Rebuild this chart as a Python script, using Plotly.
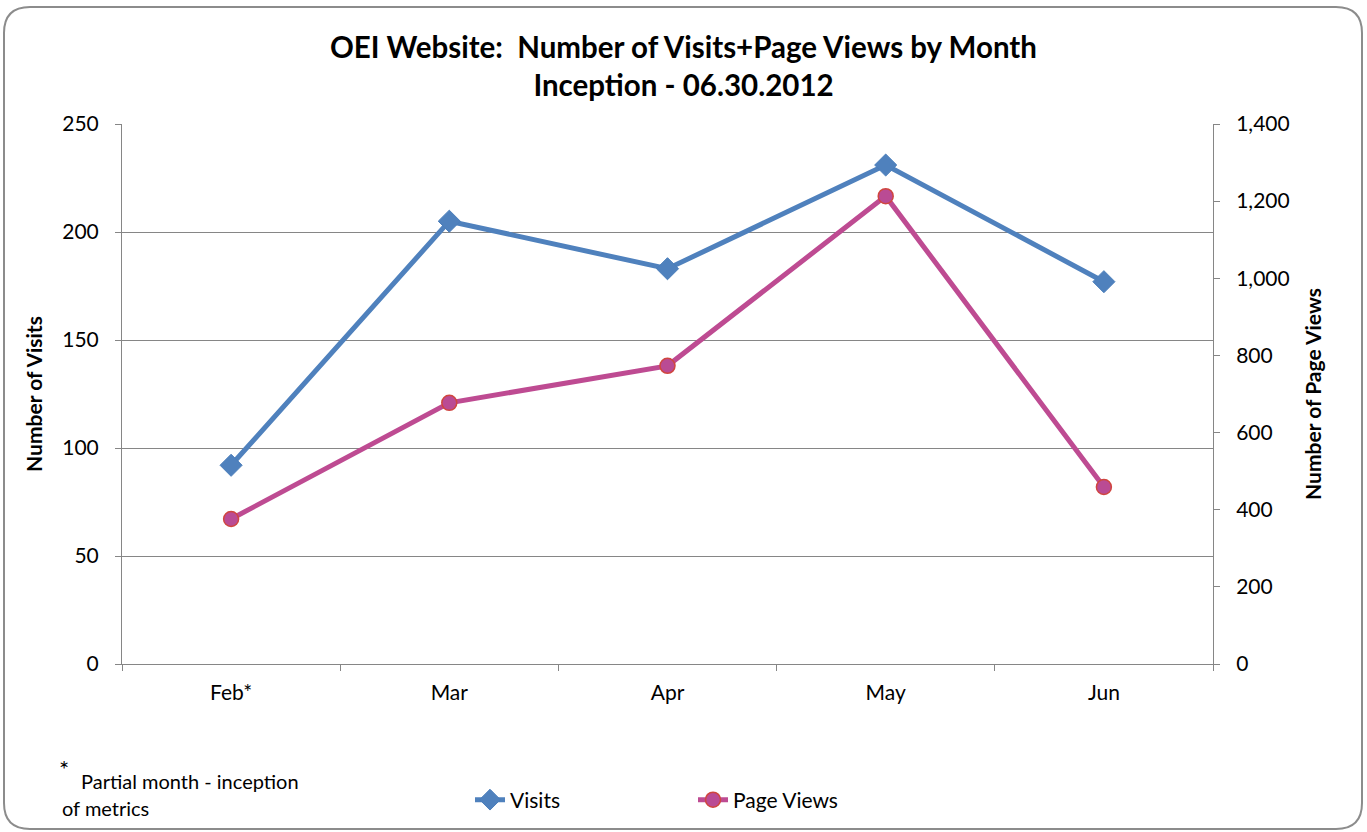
import plotly.graph_objects as go

months = ["Feb*", "Mar", "Apr", "May", "Jun"]
visits = [92, 205, 183, 231, 177]
page_views = [376, 677, 773, 1213, 459]

left_ticks = [0, 50, 100, 150, 200, 250]
right_ticks = [0, 200, 400, 600, 800, 1000, 1200, 1400]

W, H = 1367, 832
ML, MR, MT, MB = 122, 154, 124, 168
PW, PH = W - ML - MR, H - MT - MB

def px(x):
    return (x - ML) / PW

def py(y):
    return (H - MB - y) / PH

FONT = "Lato"
GRAY = "#868686"

fig = go.Figure()
fig.add_trace(go.Scatter(
    x=months, y=visits, name="Visits", mode="lines+markers",
    line=dict(color="#4F81BD", width=5),
    marker=dict(symbol="diamond", size=17, color="#4F81BD",
                line=dict(color="#4A7EBB", width=1)),
    yaxis="y",
))
fig.add_trace(go.Scatter(
    x=months, y=page_views, name="Page Views", mode="lines+markers",
    line=dict(color="#BE4B92", width=5),
    marker=dict(symbol="circle", size=15, color="#BA4B94",
                line=dict(color="#D0463F", width=1.5)),
    yaxis="y2",
))

# rounded chart border
x0, x1, y0, y1, r = px(4), px(1362), py(7), py(829), 26
rx, ry = r / PW, r / PH
path = (f"M {x0+rx},{y0} L {x1-rx},{y0} Q {x1},{y0} {x1},{y0-ry} "
        f"L {x1},{y1+ry} Q {x1},{y1} {x1-rx},{y1} "
        f"L {x0+rx},{y1} Q {x0},{y1} {x0},{y1+ry} "
        f"L {x0},{y0-ry} Q {x0},{y0} {x0+rx},{y0} Z")

fig.update_layout(
    width=W, height=H,
    margin=dict(l=ML, r=MR, t=MT, b=MB, pad=0),
    paper_bgcolor="white", plot_bgcolor="white",
    font=dict(family=FONT, size=21, color="#000000"),
    title=dict(
        text="<b>OEI Website:  Number of Visits+Page Views by Month<br>Inception - 06.30.2012</b>",
        x=0.5, xanchor="center", y=1 - 58 / H, yanchor="middle",
        font=dict(family=FONT, size=29.5),
    ),
    xaxis=dict(
        type="category", tickson="boundaries", ticks="outside", ticklen=6,
        tickcolor=GRAY, showline=True, linecolor=GRAY, linewidth=1,
        showgrid=False, tickfont=dict(size=21), range=[-0.5, 4.5],
        ticklabelstandoff=10,
    ),
    yaxis=dict(
        range=[0, 250], tickvals=left_ticks, ticks="outside", ticklen=6,
        tickcolor=GRAY, showline=True, linecolor=GRAY, linewidth=1,
        showgrid=True, gridcolor=GRAY, gridwidth=1.2, zeroline=False,
        title=dict(text="<b>Number of Visits</b>", font=dict(size=21), standoff=13),
        tickfont=dict(size=21), ticklabelstandoff=12,
    ),
    yaxis2=dict(
        range=[0, 1400], tickvals=right_ticks, overlaying="y", side="right",
        ticks="outside", ticklen=6, tickcolor=GRAY, showline=True,
        linecolor=GRAY, linewidth=1, showgrid=False, zeroline=False,
        tickformat=",d",
        title=dict(text="<b>Number of Page Views</b>", font=dict(size=21), standoff=17),
        tickfont=dict(size=21), ticklabelstandoff=12,
    ),
    legend=dict(
        orientation="h", x=px(470), xanchor="left", y=py(800), yanchor="middle",
        font=dict(size=21), entrywidth=178, entrywidthmode="pixels",
        bgcolor="rgba(0,0,0,0)",
    ),
    showlegend=True,
    shapes=[dict(type="path", path=path, xref="paper", yref="paper",
                 line=dict(color="#8C8C8C", width=2), fillcolor="rgba(0,0,0,0)",
                 layer="below")],
    annotations=[
        dict(text="*", x=px(57), y=py(768), xref="paper", yref="paper",
             xanchor="left", yanchor="middle", showarrow=False, font=dict(size=24)),
        dict(text="Partial month - inception", x=px(79), y=py(781), xref="paper", yref="paper",
             xanchor="left", yanchor="middle", showarrow=False, font=dict(size=20)),
        dict(text="of metrics", x=px(60), y=py(808), xref="paper", yref="paper",
             xanchor="left", yanchor="middle", showarrow=False, font=dict(size=20)),
    ],
)

fig.write_html("out.html", config={"displayModeBar": False},
               post_script="document.body.style.margin='0';")
